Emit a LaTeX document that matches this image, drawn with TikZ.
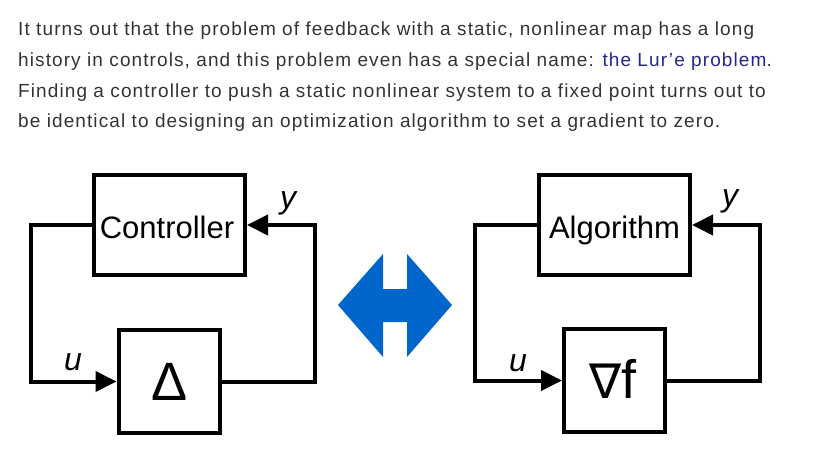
\documentclass[tikz,border=0pt]{standalone}
\usepackage{fontspec}
\setmainfont{Liberation Sans}
\newfontfamily\symfont{DejaVu Sans}
\newfontfamily\parafont[LetterSpace=5.8]{Liberation Sans}
\usetikzlibrary{arrows.meta}
\definecolor{bodytext}{RGB}{51,51,51}
\definecolor{linkblue}{RGB}{38,38,140}
\definecolor{arrowblue}{RGB}{0,102,204}
\begin{document}
\begin{tikzpicture}[x=1pt,y=-1pt,
  box/.style={draw=black,line width=4pt,minimum width=#1,inner sep=0pt},
  wire/.style={draw=black,line width=4pt,line join=miter},
  tip/.style={-{Triangle[length=21pt,width=20pt]}},
  para/.style={anchor=base west,inner sep=0pt,text=bodytext,font=\parafont\fontsize{19}{22}\selectfont},
  boxtext/.style={anchor=base,inner sep=0pt,font=\fontsize{31}{36}\selectfont},
  sig/.style={anchor=base,inner sep=0pt,font=\fontsize{32}{36}\selectfont\itshape}]
\useasboundingbox (0,0) rectangle (813,462);
% paragraph
\node[para] (t1) at (18,36) {It turns out that the problem of feedback with a static, nonlinear map has a long};
\node[para] (t2) at (18,66.7) {history in controls, and this problem even has a special name: \textcolor{linkblue}{the Lur’e problem}.};
\node[para] (t3) at (18,97.3) {Finding a controller to push a static nonlinear system to a fixed point turns out to};
\node[para] (t4) at (18,128) {be identical to designing an optimization algorithm to set a gradient to zero.};
% left diagram
\node[box=151.5pt,minimum height=100pt] (ctrl) at (169.25,225) {};
\node[box=101.5pt,minimum height=103pt] (delta) at (169.25,381.5) {};
\node[boxtext] (ctrlt) at (167,238.5) {Controller};
\node[anchor=base,inner sep=0pt,font=\fontsize{54}{60}\selectfont] (deltat) at (169.5,400) {Δ};
\coordinate (l1) at (31,225);
\coordinate (l2) at (31,381.5);
\coordinate (r1) at (315,225);
\coordinate (r2) at (315,381.5);
\draw[wire,tip] (ctrl.west) -- (l1) -- (l2) -- (delta.west);
\draw[wire,tip] (delta.east) -- (r2) -- (r1) -- (ctrl.east);
\node[sig] (y1) at (288,208.5) {y};
\node[sig] (u1) at (73,370) {u};
% right diagram
\node[box=151pt,minimum height=100pt] (alg) at (614.5,225) {};
\node[box=101pt,minimum height=103pt] (grad) at (614.5,380.5) {};
\node[boxtext] (algt) at (614.5,238.5) {Algorithm};
\node[anchor=base,inner sep=0pt] (gradt) at (613,398) {{\symfont\fontsize{48}{50}\selectfont ∇}{\fontsize{54}{60}\selectfont f}};
\coordinate (l3) at (475,225);
\coordinate (l4) at (475,380.5);
\coordinate (r3) at (760,225);
\coordinate (r4) at (760,380.5);
\draw[wire,tip] (alg.west) -- (l3) -- (l4) -- (grad.west);
\draw[wire,tip] (grad.east) -- (r4) -- (r3) -- (alg.east);
\node[sig] (y2) at (730,207) {y};
\node[sig] (u2) at (518,371) {u};
% blue double arrow
\fill[arrowblue] (338,305) -- (383,254) -- (383,289) -- (407,289) -- (407,254) -- (452,305)
  -- (407,357) -- (407,322) -- (383,322) -- (383,357) -- cycle;
\end{tikzpicture}
\end{document}
